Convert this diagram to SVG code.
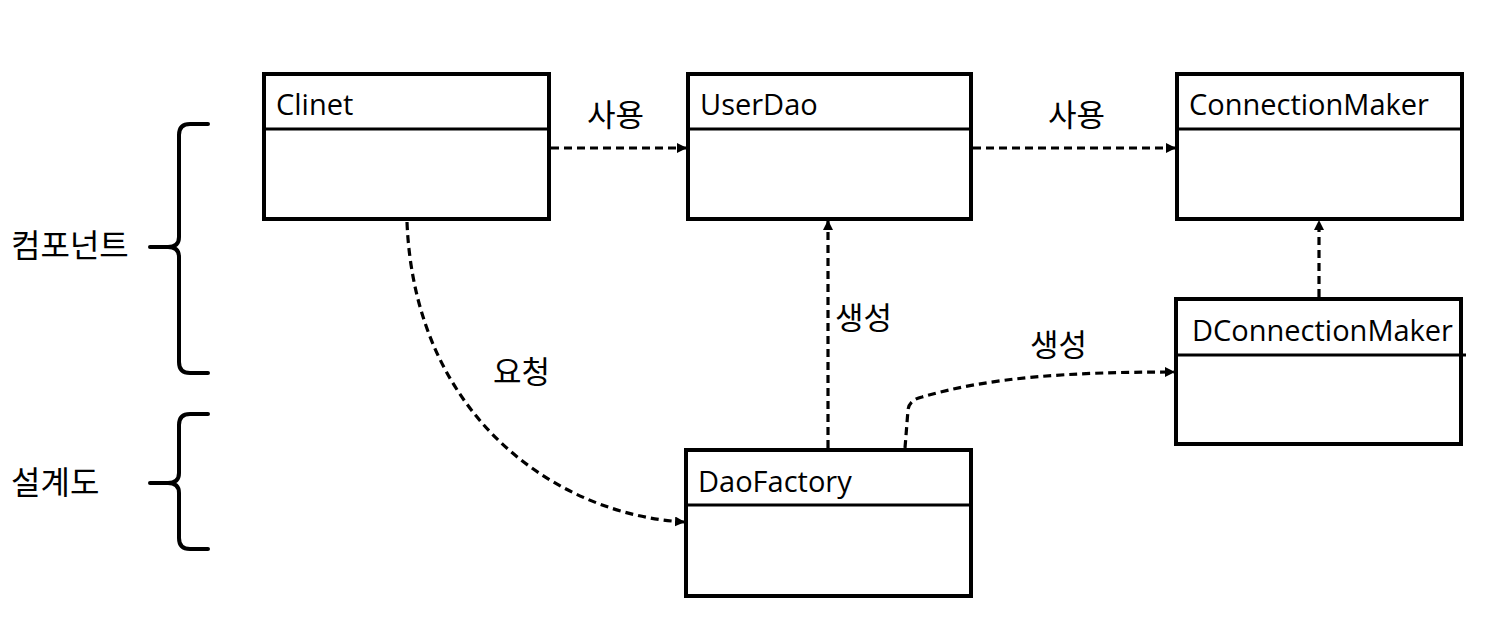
<svg xmlns="http://www.w3.org/2000/svg" width="1503" height="641" viewBox="0 0 1503 641">
<defs>
<marker id="ah" viewBox="0 0 10 10" refX="9" refY="5" markerWidth="10" markerHeight="10" markerUnits="userSpaceOnUse" orient="auto">
<path d="M0,0 L10,5 L0,10 Z" fill="#000"/>
</marker>
<style>
.box{fill:#fff;stroke:#000;stroke-width:4}
.sep{stroke:#000;stroke-width:3}
.title{font-family:"Open Sans","Noto Sans",sans-serif;font-size:29px;fill:#000}
.lbl{font-family:"Noto Sans CJK KR","Noto Sans",sans-serif;font-size:31px;fill:#000}
.side{font-family:"Noto Sans CJK KR","Noto Sans",sans-serif;font-size:32px;fill:#000}
.dash{fill:none;stroke:#000;stroke-width:3.2;stroke-dasharray:8 5;marker-end:url(#ah)}
.brace{fill:none;stroke:#000;stroke-width:4;stroke-linecap:round}
</style>
</defs>
<rect width="1503" height="641" fill="#fff"/>
<g id="connectors">
<path class="dash" d="M551,148 L686,148"/>
<path class="dash" d="M973,148 L1175,148"/>
<path class="dash" d="M828,448 L828,221"/>
<path class="dash" d="M1319,297 L1319,221"/>
<path class="dash" d="M905,448 L908,410 Q909,400 922,397 C990,377 1070,372 1174,372"/>
<path class="dash" d="M407,222 C415,420 560,515 684,522"/>
</g>
<g id="labels">
<text class="lbl" x="587" y="126">사용</text>
<text class="lbl" x="1048" y="126">사용</text>
<text class="lbl" x="835" y="329">생성</text>
<text class="lbl" x="1030" y="356">생성</text>
<text class="lbl" x="493" y="383">요청</text>
</g>
<g id="brace-component">
<path class="brace" d="M208,124 L190,124 Q179,124 179,135 L179,237 Q179,247 168,247 L150,247 M168,247 Q179,247 179,257 L179,362 Q179,373 190,373 L208,373"/>
<text class="side" x="11" y="257">컴포넌트</text>
</g>
<g id="brace-design">
<path class="brace" d="M208,414 L190,414 Q179,414 179,425 L179,473 Q179,483 168,483 L150,483 M168,483 Q179,483 179,493 L179,538 Q179,549 190,549 L208,549"/>
<text class="side" x="11" y="494">설계도</text>
</g>
<g id="node-clinet">
<rect class="box" x="264" y="74" width="285" height="145"/>
<line class="sep" x1="264" y1="129" x2="549" y2="129"/>
<text class="title" x="276" y="115">Clinet</text>
</g>
<g id="node-userdao">
<rect class="box" x="688" y="74" width="283" height="145"/>
<line class="sep" x1="688" y1="129" x2="971" y2="129"/>
<text class="title" x="700" y="115">UserDao</text>
</g>
<g id="node-connectionmaker">
<rect class="box" x="1177" y="74" width="285" height="145"/>
<line class="sep" x1="1177" y1="129" x2="1462" y2="129"/>
<text class="title" x="1189" y="115">ConnectionMaker</text>
</g>
<g id="node-dconnectionmaker">
<rect class="box" x="1176" y="299" width="285" height="145"/>
<line class="sep" x1="1176" y1="355" x2="1466" y2="355"/>
<text class="title" x="1192" y="341">DConnectionMaker</text>
</g>
<g id="node-daofactory">
<rect class="box" x="686" y="450" width="285" height="146"/>
<line class="sep" x1="686" y1="505" x2="971" y2="505"/>
<text class="title" x="698" y="492">DaoFactory</text>
</g>
</svg>
